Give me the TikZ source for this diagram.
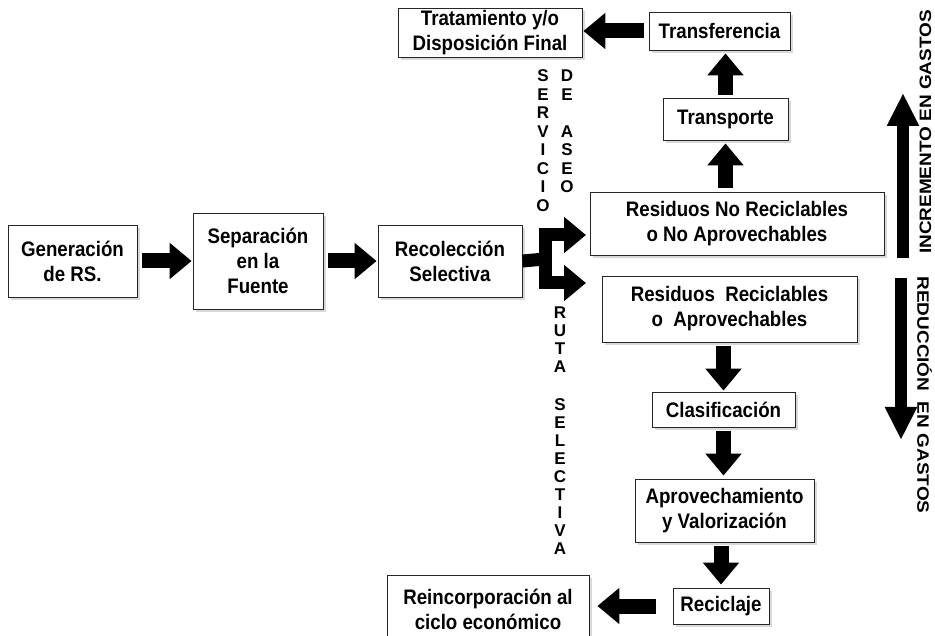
\documentclass[tikz,border=0pt]{standalone}
\usepackage{fontspec}
\setmainfont{Liberation Sans}
\newfontfamily\condfont[FakeStretch=0.89]{Liberation Sans}
\usetikzlibrary{arrows.meta,shadows,calc}
\begin{document}
\begin{tikzpicture}[x=1pt,y=-1pt,
  box/.style={draw=black!85, line width=0.8pt, fill=white, align=center, inner sep=0pt,
    font=\condfont\fontsize{21}{25}\selectfont\bfseries,
    drop shadow={shadow xshift=3pt, shadow yshift=-3pt, opacity=0.3}},
  wh/.style 2 args={minimum width=#1pt, minimum height=#2pt},
  fat/.style={line width=15pt, -{Triangle[length=22pt,width=35pt]}, shorten >=1pt, shorten <=5pt},
  forkarrow/.style={line width=13pt, line join=miter, -{Triangle[length=22pt,width=35pt]}},
  side/.style={line width=12pt, -{Triangle[length=33pt,width=30pt]}},
  vl/.style={inner sep=0pt, font=\fontsize{17}{17}\selectfont\bfseries},
  sidetext/.style={inner sep=0pt, font=\fontsize{16.5}{16.5}\selectfont\bfseries, xscale=1.15}
]
\clip (0,0) rectangle (935,636);
\useasboundingbox (0,0) rectangle (935,636);

% boxes
\node[box, wh={129}{72}] (gen) at (72.5,261) {Generación\\de RS.};
\node[box, wh={130}{96}] (sep) at (258,261) {Separación\\en la\\Fuente};
\node[box, wh={144}{72}] (rec) at (450,261) {Recolección\\Selectiva};
\node[box, wh={294}{63}] (rnr) at (737,223.5) {Residuos No Reciclables\\o No Aprovechables};
\node[box, wh={255}{66}] (rr) at (729.5,309) {Residuos\ \ Reciclables\\o\ \ Aprovechables};
\node[box, wh={125}{42}] (transp) at (725.5,119) {Transporte};
\node[box, wh={141}{38}] (transf) at (719.5,31) {Transferencia};
\node[box, wh={184}{49}] (trat) at (490,32.5) {Tratamiento y/o\\Disposición Final};
\node[box, wh={143}{35}] (clas) at (723.5,409.5) {Clasificación};
\node[box, wh={179}{63}] (aprov) at (724.5,510.5) {Aprovechamiento\\y Valorización};
\node[box, wh={96}{36}] (recic) at (721,606) {Reciclaje};
\node[box, wh={202}{68}] (reinc) at (488,609) {Reincorporación al\\ciclo económico};

% arrows
\draw[fat] (gen.east) -- (sep.west);
\draw[fat] (sep.east) -- (rec.west);
\coordinate (fork) at (545,259);
\coordinate (t1) at (586,235);
\coordinate (t2) at (586,283);
\draw[line width=13pt] (rec.east) -- (fork);
\draw[forkarrow] (fork) |- (t1);
\draw[forkarrow] (fork) |- (t2);
\draw[fat, shorten <=4pt, shorten >=3pt] (transp.south |- rnr.north) -- (transp.south);
\draw[fat, shorten <=3pt, shorten >=3pt] (transp.north) -- (transp.north |- transf.south);
\draw[fat] (transf.west) -- (transf.west -| trat.east);
\draw[fat, shorten <=4pt, shorten >=1pt] (clas.north |- rr.south) -- (clas.north);
\draw[fat, shorten <=4pt, shorten >=3pt] (clas.south) -- (clas.south |- aprov.north);
\draw[fat, shorten <=4pt, shorten >=3pt] (recic.north |- aprov.south) -- (recic.north);
\draw[fat, shorten <=17pt, shorten >=8pt] (recic.west) -- (recic.west -| reinc.east);

% side arrows
\coordinate (up1) at (903,258);
\coordinate (up2) at (903,93);
\coordinate (dn1) at (901,278);
\coordinate (dn2) at (901,440);
\draw[side] (up1) -- (up2);
\draw[side] (dn1) -- (dn2);
\node[rotate=90, sidetext] (incr) at (925.5,132) {INCREMENTO EN GASTOS};
\node[rotate=-90, sidetext] (redu) at (924.5,395) {REDUCCIÓN\ \ EN GASTOS};

% vertical letters
\foreach \l [count=\i from 0] in {S,E,R,V,I,C,I,O}
  \node[vl] (serv\i) at (543,{76+18.5*\i}) {\l};
\foreach \l/\yy [count=\i] in {D/76,E/94.5,A/131.5,S/150,E/168.5,O/187}
  \node[vl] (aseo\i) at (567,\yy) {\l};
\foreach \l/\yy [count=\i] in {R/313,U/331,T/349,A/367,S/405,E/423,L/441,E/459,C/477,T/495,I/513,V/531,A/549}
  \node[vl] (ruta\i) at (560,\yy) {\l};
\end{tikzpicture}
\end{document}
